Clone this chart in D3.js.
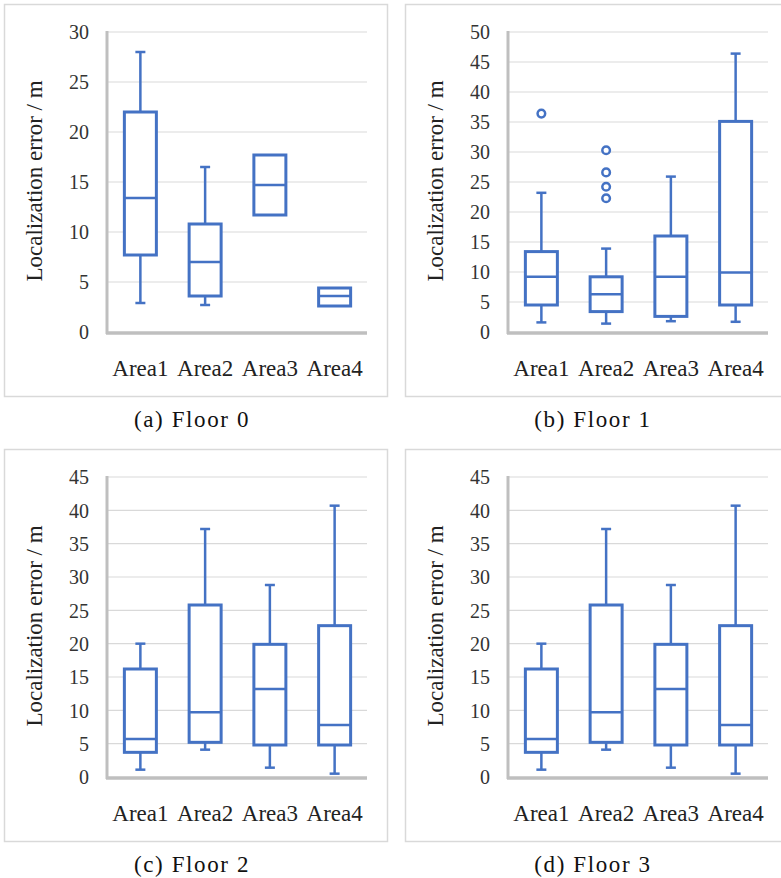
<!DOCTYPE html>
<html>
<head>
<meta charset="utf-8">
<script src="https://cdn.jsdelivr.net/npm/d3@7"></script>
<style>
  body { margin: 0; background: #fff; }
  svg { display: block; }
  text { font-family: "Liberation Serif", "Times New Roman", Tinos, "DejaVu Serif", serif; }
</style>
</head>
<body>
<svg id="chart" width="781" height="878"></svg>
<script>
// categories
const areas = ['Area1', 'Area2', 'Area3', 'Area4'];

// box stats per area: [min, q1, median, q3, max]
const floor0 = [
  [2.9, 7.7, 13.4, 22.0, 28.0],
  [2.7, 3.6, 7.0, 10.8, 16.5],
  [11.7, 11.7, 14.7, 17.7, 17.7],
  [2.6, 2.6, 3.6, 4.4, 4.4],
];
const floor1 = [
  [1.6, 4.5, 9.2, 13.4, 23.2],
  [1.4, 3.4, 6.3, 9.2, 13.9],
  [1.8, 2.6, 9.2, 16.0, 25.9],
  [1.7, 4.5, 9.9, 35.1, 46.4],
];
const floor2 = [
  [1.1, 3.7, 5.7, 16.2, 20.0],
  [4.1, 5.2, 9.7, 25.8, 37.2],
  [1.4, 4.8, 13.2, 19.9, 28.8],
  [0.5, 4.8, 7.8, 22.7, 40.7],
];
const floor3 = floor2;

// outliers (only floor 1 has them)
const floor1Outliers = [[36.4], [30.3, 26.6, 24.2, 22.3], [], []];

// axis tick values
const ticks30 = [0, 5, 10, 15, 20, 25, 30];
const ticks50 = [0, 5, 10, 15, 20, 25, 30, 35, 40, 45, 50];
const ticks45 = [0, 5, 10, 15, 20, 25, 30, 35, 40, 45];

const captions = ['(a) Floor 0', '(b) Floor 1', '(c) Floor 2', '(d) Floor 3'];

const blue = '#4472C4';
const svg = d3.select('#chart');

// panel layout (positions only)
const panels = [
  { dx: 0, dy: 0, data: floor0, outliers: null, ticks: ticks30, frameW: 383 },
  { dx: 401, dy: 0, data: floor1, outliers: floor1Outliers, ticks: ticks50, frameW: 400 },
  { dx: 0, dy: 445, data: floor2, outliers: null, ticks: ticks45, frameW: 383 },
  { dx: 401, dy: 445, data: floor3, outliers: null, ticks: ticks45, frameW: 400 },
];

panels.forEach(function (p, i) {
  const g = svg.append('g').attr('transform', 'translate(' + p.dx + ',' + p.dy + ')');

  // chart frame
  g.append('rect')
    .attr('x', 4.5).attr('y', 4.5)
    .attr('width', p.frameW).attr('height', 392)
    .attr('fill', '#fff')
    .attr('stroke', '#d9d9d9')
    .attr('stroke-width', 1.5);

  const x = d3.scaleBand().domain(areas).range([108, 367]);
  const y = d3.scaleLinear().domain([0, d3.max(p.ticks)]).range([332, 32]);

  // gridlines
  g.selectAll('.grid')
    .data(p.ticks.filter(function (t) { return t > 0; }))
    .enter()
    .append('line')
    .attr('x1', 108).attr('x2', 367)
    .attr('y1', function (d) { return y(d); })
    .attr('y2', function (d) { return y(d); })
    .attr('stroke', '#d9d9d9')
    .attr('stroke-width', 1.2);

  // tick labels
  g.selectAll('.tick')
    .data(p.ticks)
    .enter()
    .append('text')
    .attr('x', 89)
    .attr('y', function (d) { return y(d); })
    .attr('dy', '0.36em')
    .attr('text-anchor', 'end')
    .style('font-size', '20px')
    .style('fill', '#333')
    .text(function (d) { return d; });

  // axes lines
  g.append('line')
    .attr('x1', 107).attr('x2', 107).attr('y1', 31).attr('y2', 334)
    .attr('stroke', '#bfbfbf').attr('stroke-width', 3);
  g.append('line')
    .attr('x1', 106).attr('x2', 367).attr('y1', 333).attr('y2', 333)
    .attr('stroke', '#bfbfbf').attr('stroke-width', 3.5);

  // y label
  g.append('text')
    .attr('transform', 'translate(42,181) rotate(-90)')
    .attr('text-anchor', 'middle')
    .style('font-size', '23px')
    .style('fill', '#222')
    .text('Localization error / m');

  // category labels
  g.selectAll('.cat')
    .data(areas)
    .enter()
    .append('text')
    .attr('x', function (d) { return x(d) + x.bandwidth() / 2; })
    .attr('y', 376)
    .attr('text-anchor', 'middle')
    .style('font-size', '23px')
    .style('fill', '#222')
    .text(function (d) { return d; });

  // boxes
  const bw = 32;
  const box = g.selectAll('.box')
    .data(p.data)
    .enter()
    .append('g')
    .attr('transform', function (d, k) {
      return 'translate(' + (x(areas[k]) + x.bandwidth() / 2) + ',0)';
    });

  // whiskers
  box.each(function (d) {
    const b = d3.select(this);
    if (d[0] < d[1]) {
      b.append('line').attr('x1', 0).attr('x2', 0)
        .attr('y1', y(d[1])).attr('y2', y(d[0]))
        .attr('stroke', blue).attr('stroke-width', 2.5);
      b.append('line').attr('x1', -5).attr('x2', 5)
        .attr('y1', y(d[0])).attr('y2', y(d[0]))
        .attr('stroke', blue).attr('stroke-width', 2.5);
    }
    if (d[4] > d[3]) {
      b.append('line').attr('x1', 0).attr('x2', 0)
        .attr('y1', y(d[3])).attr('y2', y(d[4]))
        .attr('stroke', blue).attr('stroke-width', 2.5);
      b.append('line').attr('x1', -5).attr('x2', 5)
        .attr('y1', y(d[4])).attr('y2', y(d[4]))
        .attr('stroke', blue).attr('stroke-width', 2.5);
    }
  });

  box.append('rect')
    .attr('x', -bw / 2)
    .attr('y', function (d) { return y(d[3]); })
    .attr('width', bw)
    .attr('height', function (d) { return y(d[1]) - y(d[3]); })
    .attr('fill', '#fff')
    .attr('stroke', blue)
    .attr('stroke-width', 3);

  box.append('line')
    .attr('x1', -bw / 2).attr('x2', bw / 2)
    .attr('y1', function (d) { return y(d[2]); })
    .attr('y2', function (d) { return y(d[2]); })
    .attr('stroke', blue)
    .attr('stroke-width', 2.5);

  // outliers
  if (p.outliers) {
    box.each(function (d, k) {
      d3.select(this).selectAll('circle')
        .data(p.outliers[k])
        .enter()
        .append('circle')
        .attr('cx', 0)
        .attr('cy', function (v) { return y(v); })
        .attr('r', 3.8)
        .attr('fill', '#fff')
        .attr('stroke', blue)
        .attr('stroke-width', 2.5);
    });
  }

  // caption
  g.append('text')
    .attr('x', 192)
    .attr('y', 427)
    .attr('text-anchor', 'middle')
    .style('font-size', '23px')
    .style('letter-spacing', '1.6px')
    .style('fill', '#111')
    .text(captions[i]);
});
</script>
</body>
</html>
